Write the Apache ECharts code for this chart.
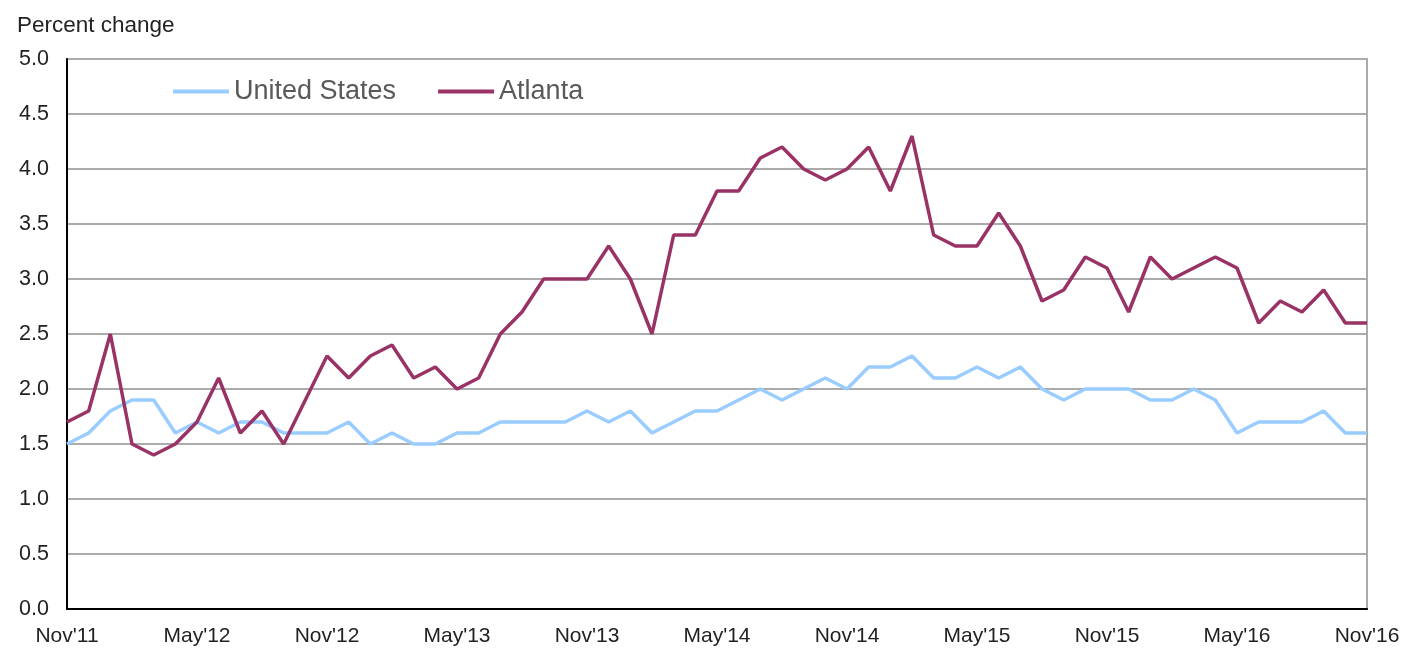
<!DOCTYPE html>
<html>
<head>
<meta charset="utf-8">
<script src="https://cdn.jsdelivr.net/npm/echarts@6/dist/echarts.min.js"></script>
<style>
html,body{margin:0;padding:0;background:#fff;}
#chart{width:1405px;height:648px;}
</style>
</head>
<body>
<div id="chart"></div>
<script>
var months = ["Nov'11","Dec'11","Jan'12","Feb'12","Mar'12","Apr'12","May'12","Jun'12","Jul'12","Aug'12","Sep'12","Oct'12",
"Nov'12","Dec'12","Jan'13","Feb'13","Mar'13","Apr'13","May'13","Jun'13","Jul'13","Aug'13","Sep'13","Oct'13",
"Nov'13","Dec'13","Jan'14","Feb'14","Mar'14","Apr'14","May'14","Jun'14","Jul'14","Aug'14","Sep'14","Oct'14",
"Nov'14","Dec'14","Jan'15","Feb'15","Mar'15","Apr'15","May'15","Jun'15","Jul'15","Aug'15","Sep'15","Oct'15",
"Nov'15","Dec'15","Jan'16","Feb'16","Mar'16","Apr'16","May'16","Jun'16","Jul'16","Aug'16","Sep'16","Oct'16","Nov'16"];

var unitedStates = [1.5,1.6,1.8,1.9,1.9,1.6,1.7,1.6,1.7,1.7,1.6,1.6,
1.6,1.7,1.5,1.6,1.5,1.5,1.6,1.6,1.7,1.7,1.7,1.7,
1.8,1.7,1.8,1.6,1.7,1.8,1.8,1.9,2.0,1.9,2.0,2.1,
2.0,2.2,2.2,2.3,2.1,2.1,2.2,2.1,2.2,2.0,1.9,2.0,
2.0,2.0,1.9,1.9,2.0,1.9,1.6,1.7,1.7,1.7,1.8,1.6,1.6];

var atlanta = [1.7,1.8,2.5,1.5,1.4,1.5,1.7,2.1,1.6,1.8,1.5,1.9,
2.3,2.1,2.3,2.4,2.1,2.2,2.0,2.1,2.5,2.7,3.0,3.0,
3.0,3.3,3.0,2.5,3.4,3.4,3.8,3.8,4.1,4.2,4.0,3.9,
4.0,4.2,3.8,4.3,3.4,3.3,3.3,3.6,3.3,2.8,2.9,3.2,
3.1,2.7,3.2,3.0,3.1,3.2,3.1,2.6,2.8,2.7,2.9,2.6,2.6];

var seriesNames = ["United States","Atlanta"];
var yAxisTitle = "Percent change";

var chart = echarts.init(document.getElementById('chart'), null, {renderer:'canvas'});
var font = "'Liberation Sans', Arial, sans-serif";
chart.setOption({
  animation:false,
  backgroundColor:'#ffffff',
  title:{
    text:yAxisTitle, left:12, top:9,
    textStyle:{fontFamily:font, fontSize:22.5, fontWeight:'normal', color:'#222222'}
  },
  legend:{
    left:168, top:73,
    icon:'rect', itemWidth:56, itemHeight:4, itemGap:42,
    textStyle:{fontFamily:font, fontSize:27, color:'#595959', padding:[0,0,0,0]},
    data:seriesNames
  },
  grid:{left:67, right:38, top:59, bottom:39, show:true, borderColor:'#ababab', borderWidth:2},
  xAxis:{
    type:'category', data:months, boundaryGap:false,
    axisLine:{show:true, lineStyle:{color:'#000000', width:2}},
    axisTick:{show:false},
    splitLine:{show:false},
    axisLabel:{interval:5, margin:17, fontFamily:font, fontSize:21, color:'#222222'}
  },
  yAxis:{
    type:'value', min:0, max:5, interval:0.5,
    axisLine:{show:true, lineStyle:{color:'#000000', width:2}},
    axisTick:{show:false},
    splitLine:{show:true, lineStyle:{color:'#ababab', width:2}},
    axisLabel:{margin:18, fontFamily:font, fontSize:21.5, color:'#222222',
      formatter:function(v){return v.toFixed(1);}}
  },
  series:[
    {name:seriesNames[0], type:'line', data:unitedStates, symbol:'none',
      lineStyle:{color:'#99ccff', width:3.5}, itemStyle:{color:'#99ccff'}},
    {name:seriesNames[1], type:'line', data:atlanta, symbol:'none',
      lineStyle:{color:'#993366', width:3.5}, itemStyle:{color:'#993366'}}
  ]
});
</script>
</body>
</html>
